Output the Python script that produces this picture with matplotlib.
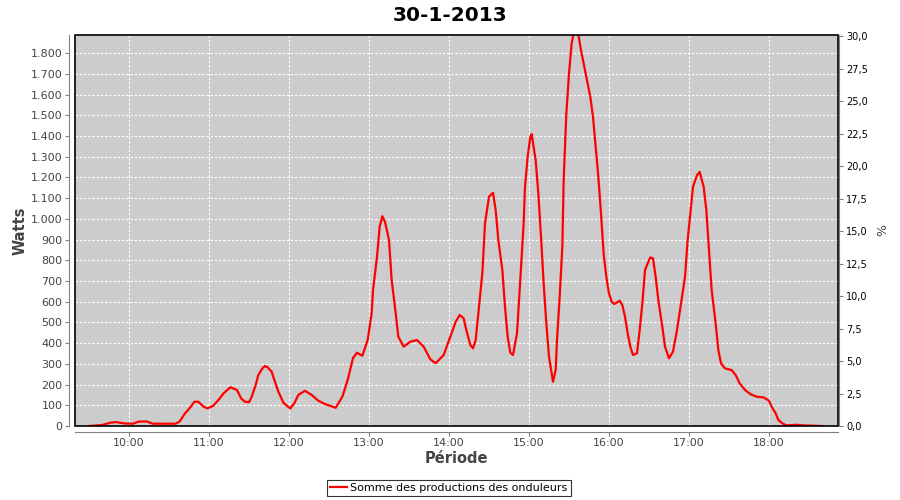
import pandas as pd
import matplotlib
matplotlib.use("Agg")
import matplotlib.pyplot as plt
import matplotlib.dates as mdates
from matplotlib.patches import Rectangle
from matplotlib.ticker import FuncFormatter, MultipleLocator

day = "2013-01-30"
times = [
    "09:30", "09:40", "09:46", "09:50", "09:57", "10:03", "10:07", "10:13", "10:18", "10:35",
    "10:38", "10:42", "10:46", "10:49", "10:52", "10:56", "10:59", "11:03", "11:07", "11:11",
    "11:16", "11:21", "11:24", "11:27", "11:30", "11:32", "11:35", "11:37", "11:40", "11:42",
    "11:44", "11:47", "11:49", "11:52", "11:56", "12:01", "12:04", "12:07", "12:12", "12:17",
    "12:22", "12:27", "12:35", "12:40", "12:44", "12:48", "12:51", "12:55", "12:59", "13:02",
    "13:03", "13:06", "13:08", "13:10", "13:12", "13:15", "13:17", "13:20", "13:22", "13:26",
    "13:31", "13:36", "13:41", "13:46", "13:50", "13:56", "14:01", "14:05", "14:08", "14:11",
    "14:13", "14:16", "14:18", "14:20", "14:22", "14:25", "14:27", "14:30", "14:33", "14:35",
    "14:37", "14:40", "14:42", "14:44", "14:46", "14:48", "14:51", "14:53", "14:56", "14:57",
    "14:59", "15:01", "15:02", "15:05", "15:07", "15:09", "15:11", "15:13", "15:15", "15:17",
    "15:18", "15:20", "15:21", "15:23", "15:25", "15:26", "15:28", "15:30", "15:32", "15:34",
    "15:36", "15:37", "15:39", "15:41", "15:43", "15:46", "15:48", "15:50", "15:52", "15:54",
    "15:56", "15:58", "16:00", "16:02", "16:04", "16:08", "16:10", "16:12", "16:14", "16:16",
    "16:18", "16:21", "16:23", "16:25", "16:27", "16:30", "16:31", "16:33", "16:35", "16:37",
    "16:40", "16:42", "16:45", "16:48", "16:51", "16:54", "16:57", "16:59", "17:01", "17:03",
    "17:06", "17:08", "17:11", "17:13", "17:15", "17:17", "17:20", "17:22", "17:24", "17:27",
    "17:32", "17:35", "17:38", "17:42", "17:46", "17:51", "17:56", "18:00", "18:02", "18:05",
    "18:07", "18:10", "18:13", "18:21", "18:26", "18:40",
]
watts = [
    0, 5, 16, 19, 12, 11, 21, 22, 11, 11,
    22, 61, 90, 117, 117, 93, 85, 97, 125, 158,
    187, 174, 134, 117, 115, 141, 198, 246, 278, 290,
    283, 262, 222, 166, 110, 85, 110, 150, 170, 150,
    122, 106, 88, 141, 222, 328, 354, 339, 415, 545,
    656, 817, 962, 1013, 986, 898, 705, 545, 431, 383,
    407, 415, 383, 322, 303, 343, 431, 503, 536, 520,
    463, 391, 375, 415, 544, 737, 978, 1107, 1126, 1042,
    898, 753, 576, 431, 354, 343, 447, 656, 980, 1155,
    1300, 1396, 1409, 1284, 1123, 914, 689, 495, 334, 254,
    214, 270, 415, 624, 865, 1187, 1509, 1702, 1847, 1915,
    1905, 1890, 1815, 1750, 1686, 1589, 1493, 1348, 1203, 1026,
    830, 720, 640, 600, 589, 605, 584, 528, 447, 383,
    343, 351, 463, 592, 753, 801, 814, 809, 720, 608,
    479, 383, 327, 359, 463, 592, 720, 898, 1026, 1155,
    1211, 1227, 1155, 1042, 849, 656, 495, 367, 303, 278,
    270, 246, 206, 174, 154, 141, 138, 122, 93, 61,
    29, 13, 3, 6, 3, 0,
]

title = "30-1-2013"
series_label = "Somme des productions des onduleurs"

x = pd.to_datetime([f"{day} {t}" for t in times])

plt.rcParams["font.family"] = ["DejaVu Sans"]
axis_grey = "#808080"
text_grey = "#444444"

fig = plt.figure(figsize=(9, 5), dpi=100)
ax = fig.add_axes([75 / 900, 74 / 500, 763 / 900, 391 / 500])
ax.set_facecolor("#cccccc")

ax.plot(x, watts, color="#ff0000", linewidth=1.6, label=series_label, zorder=3)

ax.set_xlim(pd.Timestamp(f"{day} 09:19:30"), pd.Timestamp(f"{day} 18:51:45"))
ax.set_ylim(0, 1888)

ax.xaxis.set_major_locator(mdates.HourLocator())
ax.xaxis.set_major_formatter(mdates.DateFormatter("%H:%M"))
ax.yaxis.set_major_locator(MultipleLocator(100))
ax.yaxis.set_major_formatter(FuncFormatter(lambda v, p: f"{int(v):,}".replace(",", ".")))

ax.grid(True, color="white", linestyle=(0, (2.2, 1.6)), linewidth=0.8)

for side in ["top", "right"]:
    ax.spines[side].set_visible(False)
for side in ["left", "bottom"]:
    ax.spines[side].set_position(("outward", 4))
    ax.spines[side].set_color(axis_grey)
ax.add_patch(Rectangle((0, 0), 1, 1, transform=ax.transAxes, fill=False,
                       edgecolor="black", linewidth=1.2, zorder=4, clip_on=False))

ax.tick_params(axis="both", direction="out", length=3, color=axis_grey,
               labelcolor=text_grey, labelsize=8, pad=2)

ax.set_xlabel("Période", fontsize=10.5, fontweight="bold", color=text_grey, labelpad=2)
ax.set_ylabel("Watts", fontsize=10.5, fontweight="bold", color=text_grey, labelpad=2)

ax2 = ax.twinx()
ax2.set_ylim(0, 30.1)
ax2.yaxis.set_major_locator(MultipleLocator(2.5))
ax2.yaxis.set_major_formatter(FuncFormatter(lambda v, p: f"{v:.1f}".replace(".", ",")))
for side in ["top", "left", "bottom"]:
    ax2.spines[side].set_visible(False)
ax2.spines["right"].set_position(("outward", 1))
ax2.spines["right"].set_color(axis_grey)
ax2.tick_params(axis="y", direction="out", length=3, color=axis_grey,
                labelcolor="black", labelsize=7, pad=2)
ax2.set_ylabel("%", fontsize=9, color=text_grey, labelpad=6)

fig.suptitle(title, x=450 / 900, y=0.988, fontsize=14.5, fontweight="bold")

leg = fig.legend(loc="center", bbox_to_anchor=(449 / 900, 1 - 488 / 500),
                 fontsize=8, frameon=True, fancybox=False, handlelength=1.5,
                 handletextpad=0.3, borderpad=0.3, borderaxespad=0)
leg.get_frame().set_edgecolor("black")
leg.get_frame().set_linewidth(0.8)

fig.savefig("out.png", dpi=100)
